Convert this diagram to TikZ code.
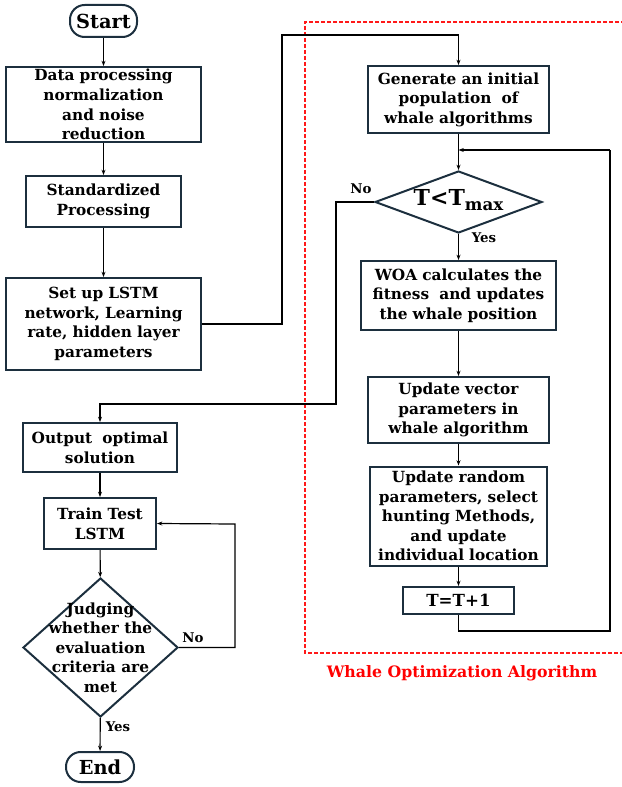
\documentclass[tikz,border=0pt]{standalone}
\usepackage{fontspec}
\setmainfont{DejaVu Serif}
\usetikzlibrary{shapes.geometric,arrows.meta}
\definecolor{navy}{HTML}{1C2F3E}
\tikzset{
  box/.style={draw=navy,line width=1.5pt,align=center,inner sep=1pt,font=\fontsize{11.5}{14.7}\selectfont\bfseries},
  term/.style={draw=navy,line width=1.5pt,rounded corners=11pt,font=\fontsize{14.5}{16}\selectfont\bfseries,inner sep=0pt},
  dia/.style={draw=navy,line width=1.5pt,diamond,inner sep=0pt},
  dtext/.style={align=center,font=\fontsize{11.5}{14.6}\selectfont\bfseries,inner sep=0pt},
  con/.style={line width=0.9pt,black},
  arr/.style={con,-{Stealth[length=4pt,width=3pt]}},
  lab/.style={font=\fontsize{10}{12}\selectfont\bfseries,inner sep=0pt},
}
\begin{document}
\begin{tikzpicture}[x=0.75pt,y=-0.75pt]
\useasboundingbox (0,0) rectangle (621,787);
% red dashed region
\draw[red!90!white,line width=1pt,dash pattern=on 3pt off 1.5pt] (625,22) -- (305,22) -- (305,653) -- (625,653);
\node[font=\fontsize{11.8}{13}\selectfont\bfseries,text=red] (wlab) at (462,673) {Whale Optimization Algorithm};

% left column
\node[term,minimum width=50.25pt,minimum height=24pt] (start) at (103.5,21) {Start};
\node[box,minimum width=146.25pt,minimum height=56.25pt,text width=142pt] (data) at (103.5,104.5) {Data processing\\normalization\\and noise\\reduction};
\node[box,minimum width=116.25pt,minimum height=38.25pt,text width=112pt] (std) at (103.5,201.5) {Standardized\\Processing};
\node[box,minimum width=146.25pt,minimum height=69pt,text width=142pt] (lstm) at (103.5,324) {Set up LSTM\\network, Learning\\rate, hidden layer\\parameters};
\node[box,minimum width=115.5pt,minimum height=36.75pt,text width=112pt] (out) at (100,447.5) {Output\ \ optimal\\solution};
\node[box,minimum width=84pt,minimum height=38.25pt,text width=80pt] (train) at (100,523.5) {Train Test\\LSTM};
\node[dia,minimum width=116.25pt,minimum height=104.25pt] (judge) at (100.5,647.5) {};
\node[dtext] (judget) at (100.5,647.5) {Judging\\whether the\\evaluation\\criteria are\\met};
\node[term,minimum width=51pt,minimum height=22.5pt] (end) at (100,767) {End};

% right column
\node[box,minimum width=135.75pt,minimum height=50.25pt,text width=133pt] (gen) at (458.5,99.5) {Generate an initial\\population\ \ of\\whale algorithms};
\node[dia,minimum width=125.25pt,minimum height=46.5pt] (tdia) at (458.5,202) {};
\node[font=\fontsize{16.5}{18}\selectfont\bfseries,inner sep=0pt] (tdiat) at (458.5,200) {T<T\raisebox{-0.4ex}{\fontsize{12.5}{13}\selectfont max}};
\node[box,minimum width=146.25pt,minimum height=51.75pt,text width=144pt] (woa) at (458.5,295.5) {WOA calculates the\\fitness\ \ and updates\\the whale position};
\node[box,minimum width=135.75pt,minimum height=49.5pt,text width=133pt] (vec) at (458.5,410) {Update vector\\parameters in\\whale algorithm};
\node[box,minimum width=132.75pt,minimum height=74.25pt,text width=131pt] (rand) at (458.5,516) {Update random\\parameters, select\\hunting Methods,\\and update\\individual location};
\node[box,font=\fontsize{12.5}{14}\selectfont\bfseries,minimum width=83.25pt,minimum height=20.25pt] (tinc) at (458.5,600.5) {T=T+1};

% coordinates for bends
\coordinate (c1) at (282,35);
\coordinate (c2) at (336,404);
\coordinate (c3) at (458.5,631);
\coordinate (c4) at (610,150);
\coordinate (c5) at (458.5,150);
\coordinate (c6) at (235,524);

% connectors
\draw[arr] (start) -- (data);
\draw[arr] (data) -- (std);
\draw[arr] (std) -- (lstm);
\draw[arr] (lstm.east) -| (c1) -| (gen.north);
\draw[arr] (gen) -- (tdia);
\draw[arr] (tdia) -- (woa);
\draw[arr] (woa) -- (vec);
\draw[arr] (vec) -- (rand);
\draw[arr] (rand) -- (tinc);
\draw[con] (tinc) -- (c3) -| (c4);
\draw[arr] (c4) -- (c5);
\draw[arr] (tdia.west) -| (c2) -| (out.north);
\draw[arr] (out) -- (train);
\draw[arr] (train) -- (judge);
\draw[arr] (judge.east) -| (c6) -- (train.east);
\draw[arr] (judge) -- (end);

% labels
\node[lab] (no1) at (361,189) {No};
\node[lab] (yes1) at (484,238) {Yes};
\node[lab] (no2) at (193,638) {No};
\node[lab] (yes2) at (118,727) {Yes};
\end{tikzpicture}
\end{document}
